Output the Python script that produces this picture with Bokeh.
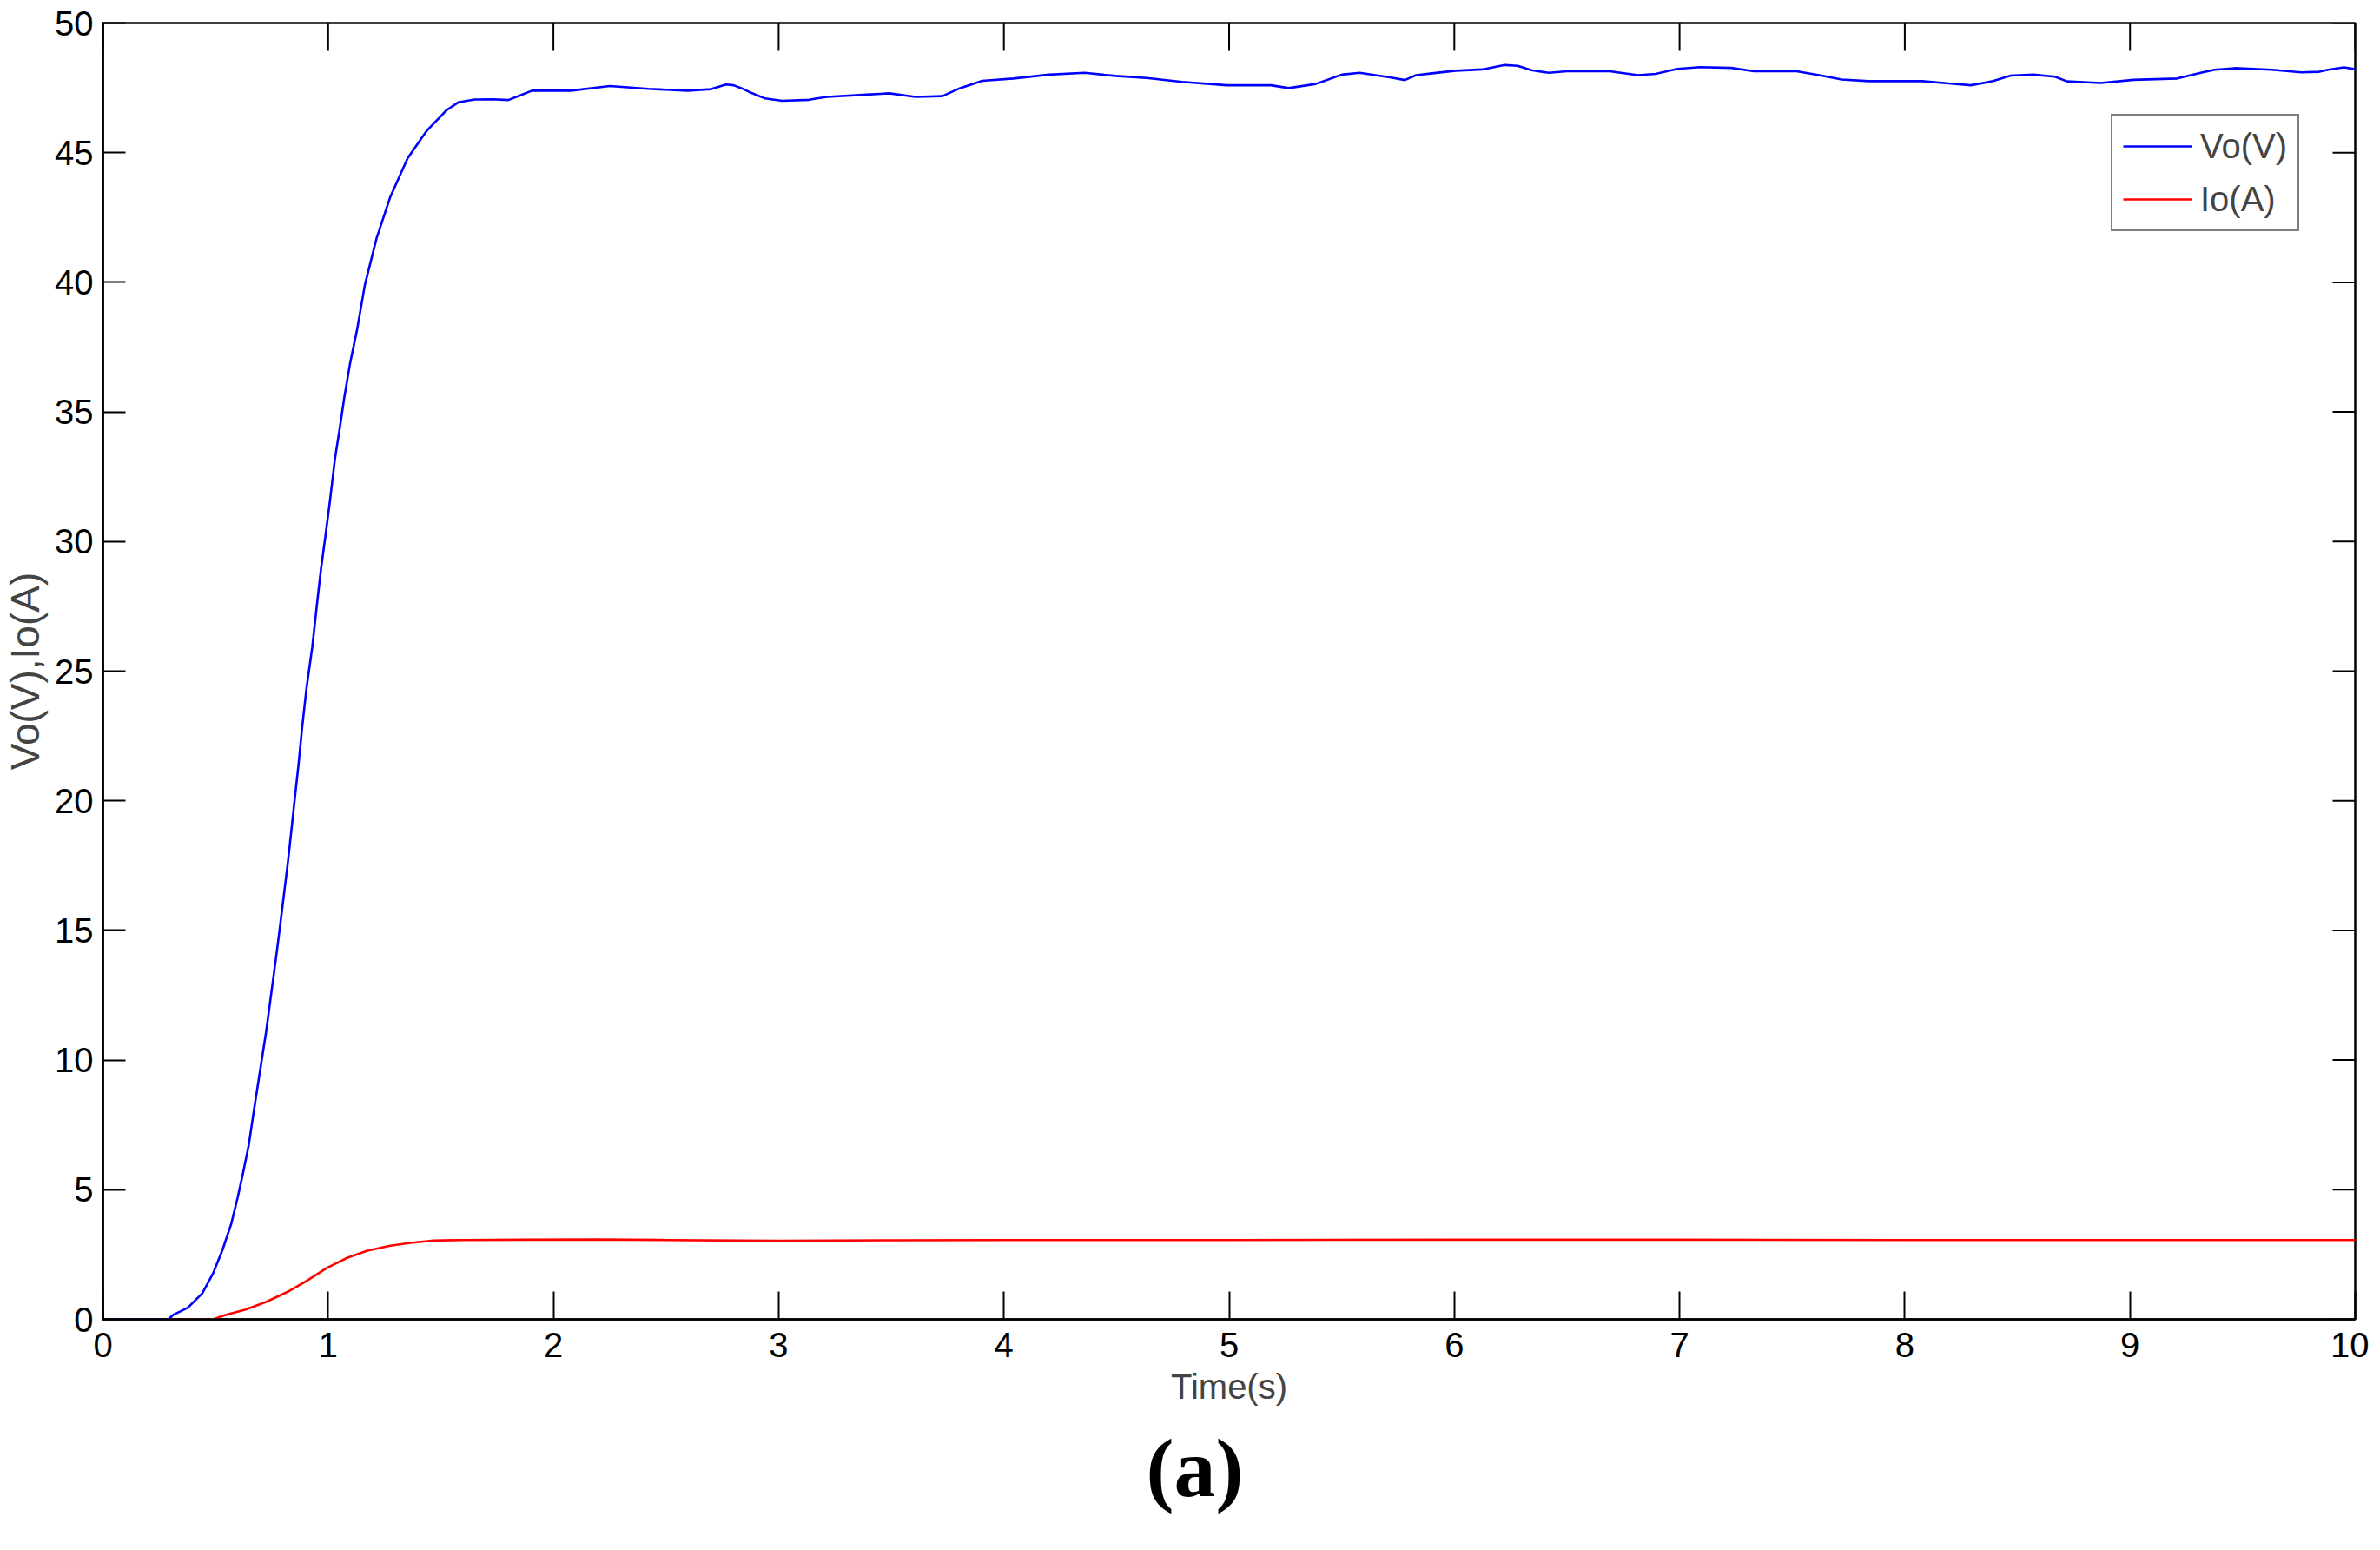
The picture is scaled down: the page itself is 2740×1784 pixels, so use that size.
import math
from bokeh.plotting import figure
from bokeh.models import FixedTicker, Range1d, Legend, LegendItem, Title
from bokeh.embed import file_html
from bokeh.resources import INLINE

# ---- data ----
t_vo = [0.0, 0.29, 0.312, 0.377, 0.441, 0.49, 0.531, 0.57, 0.598, 0.621, 0.647, 0.672, 0.698,
        0.724, 0.743, 0.762, 0.782, 0.801, 0.82, 0.837, 0.852, 0.869, 0.884, 0.904, 0.929,
        0.949, 0.968, 0.987, 1.007, 1.03, 1.052, 1.071, 1.097, 1.129, 1.163, 1.215, 1.276,
        1.353, 1.439, 1.526, 1.577, 1.65, 1.732, 1.80, 1.85, 1.905, 2.077, 2.25, 2.422,
        2.594, 2.70, 2.767, 2.80, 2.836, 2.88, 2.94, 3.016, 3.135, 3.214, 3.39, 3.49, 3.608,
        3.727, 3.806, 3.904, 4.042, 4.2, 4.358, 4.496, 4.634, 4.792, 4.99, 5.186, 5.265,
        5.384, 5.5, 5.58, 5.72, 5.78, 5.83, 5.91, 6.006, 6.124, 6.224, 6.282, 6.342, 6.42,
        6.5, 6.69, 6.816, 6.894, 6.99, 7.09, 7.23, 7.33, 7.52, 7.62, 7.72, 7.84, 8.078,
        8.195, 8.293, 8.392, 8.47, 8.57, 8.667, 8.72, 8.87, 9.015, 9.21, 9.31, 9.375, 9.465,
        9.63, 9.76, 9.84, 9.88, 9.95, 10.0]
vo = [0.0, 0.0, 0.17, 0.45, 1.0, 1.79, 2.68, 3.69, 4.69, 5.6, 6.7, 8.15, 9.61,
      11.06, 12.29, 13.52, 14.86, 16.2, 17.54, 18.88, 20.1, 21.45, 22.79, 24.35, 25.9,
      27.48, 28.93, 30.16, 31.5, 33.18, 34.4, 35.52, 36.86, 38.2, 39.9, 41.7, 43.3,
      44.79, 45.86, 46.64, 46.94, 47.05, 47.06, 47.03, 47.2, 47.39, 47.39, 47.57, 47.46,
      47.39, 47.45, 47.63, 47.6, 47.48, 47.3, 47.09, 47.0, 47.04, 47.15, 47.24, 47.29, 47.15,
      47.18, 47.49, 47.77, 47.86, 48.01, 48.08, 47.96, 47.88, 47.73, 47.6, 47.6, 47.49,
      47.65, 48.01, 48.08, 47.9, 47.8, 47.99, 48.07, 48.16, 48.21, 48.38, 48.35, 48.18, 48.08,
      48.14, 48.14, 47.99, 48.04, 48.23, 48.3, 48.27, 48.14, 48.14, 47.99, 47.82, 47.76, 47.76,
      47.67, 47.6, 47.76, 47.97, 48.01, 47.93, 47.75, 47.69, 47.81, 47.86, 48.07, 48.2, 48.26,
      48.2, 48.1, 48.12, 48.2, 48.29, 48.22]

t_io = [0.0, 0.49, 0.544, 0.634, 0.724, 0.827, 0.904, 0.994, 1.084, 1.174, 1.276, 1.366,
        1.469, 1.6, 1.855, 2.2, 2.5, 3.0, 3.5, 4.0, 5.0, 6.0, 7.0, 8.0, 9.0, 10.0]
io = [0.0, 0.0, 0.17, 0.38, 0.67, 1.09, 1.48, 1.98, 2.37, 2.65, 2.84, 2.95,
      3.04, 3.06, 3.07, 3.08, 3.06, 3.03, 3.05, 3.06, 3.06, 3.07, 3.07, 3.06, 3.06, 3.06]

x_ticks = [0, 1, 2, 3, 4, 5, 6, 7, 8, 9, 10]
y_ticks = [0, 5, 10, 15, 20, 25, 30, 35, 40, 45, 50]

series_names = ["Vo(V)", "Io(A)"]
x_label = "Time(s)"
y_label = "Vo(V),Io(A)"
caption = "(a)"

SANS = "Liberation Sans"
X_MIN, X_MAX = x_ticks[0], x_ticks[-1]
Y_MIN, Y_MAX = y_ticks[0], y_ticks[-1]

p = figure(frame_width=2593, frame_height=1492,
           x_range=Range1d(X_MIN, X_MAX), y_range=Range1d(Y_MIN, Y_MAX),
           output_backend="svg", toolbar_location=None,
           min_border_left=114, min_border_right=16, min_border_top=26,
           min_border_bottom=10)
p.background_fill_color = "white"
p.border_fill_color = "white"
p.outline_line_color = "black"
p.outline_line_width = 2.5
p.grid.visible = False

r_io = p.line(t_io, io, line_color="#ff0000", line_width=2.6)
r_vo = p.line(t_vo, vo, line_color="#0000ff", line_width=2.6)

# mirrored inward ticks on the top and right edges of the box
p.ray(x=x_ticks, y=[Y_MAX] * len(x_ticks), length=32, length_units="screen",
      angle=-math.pi / 2, line_color="black", line_width=2)
p.ray(x=[X_MAX] * len(y_ticks), y=y_ticks, length=26, length_units="screen",
      angle=math.pi, line_color="black", line_width=2)

def style_axis(ax, ticks, tick_len):
    ax.ticker = FixedTicker(ticks=ticks)
    ax.major_tick_in = tick_len
    ax.major_tick_out = 0
    ax.minor_tick_in = 0
    ax.minor_tick_out = 0
    ax.major_tick_line_color = "black"
    ax.major_tick_line_width = 2
    ax.axis_line_color = "black"
    ax.axis_line_width = 2.5
    ax.major_label_text_font = SANS
    ax.major_label_text_font_size = "40px"
    ax.major_label_text_color = "black"

xa = p.xaxis[0]
style_axis(xa, x_ticks, 32)
xa.major_label_standoff = 15
xa.axis_label = x_label
xa.axis_label_text_font = SANS
xa.axis_label_text_font_size = "40px"
xa.axis_label_text_font_style = "normal"
xa.axis_label_standoff = 9

ya = p.yaxis[0]
style_axis(ya, y_ticks, 26)
ya.major_label_standoff = 11
ya.axis_label = y_label
ya.axis_label_text_font = SANS
ya.axis_label_text_font_size = "46px"
ya.axis_label_text_font_style = "normal"
ya.axis_label_standoff = 5

legend = Legend(items=[LegendItem(label=series_names[0], renderers=[r_vo]),
                       LegendItem(label=series_names[1], renderers=[r_io])],
                location=(2312, 1252))
legend.label_text_font = SANS
legend.label_text_font_size = "40px"
legend.glyph_width = 79
legend.glyph_height = 46
legend.label_height = 46
legend.label_standoff = 10
legend.spacing = 15
legend.padding = 12
legend.margin = 0
legend.border_line_color = "black"
legend.border_line_width = 2
legend.background_fill_color = "white"
legend.background_fill_alpha = 1
p.add_layout(legend, "center")

cap = Title(text=caption, align="left", offset=1201, standoff=26,
            text_font="Liberation Serif", text_font_style="bold",
            text_font_size="96px", text_color="black")
p.add_layout(cap, "below")

open("out.html", "w").write(file_html(p, INLINE))
